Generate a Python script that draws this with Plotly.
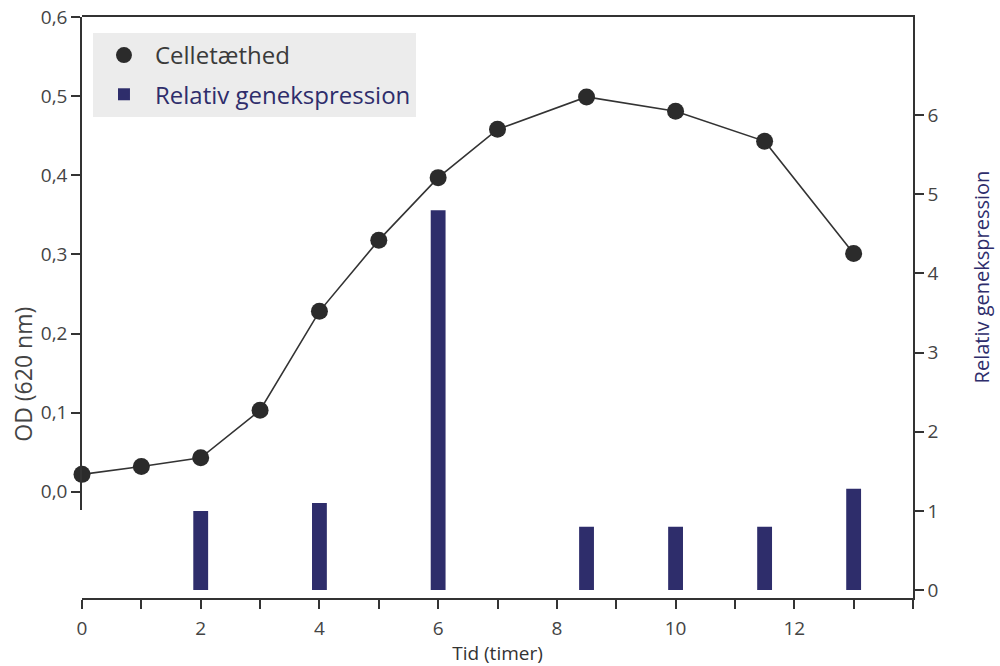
import plotly.graph_objects as go

# Data
od_time = [0, 1, 2, 3, 4, 5, 6, 7, 8.5, 10, 11.5, 13]
od_values = [0.022, 0.032, 0.043, 0.103, 0.228, 0.318, 0.397, 0.458, 0.499, 0.481, 0.443, 0.301]
expr_time = [2, 4, 6, 8.5, 10, 11.5, 13]
expr_values = [1.0, 1.1, 4.8, 0.8, 0.8, 0.8, 1.28]
x_tickvals = list(range(0, 15))
x_ticktext = ["0", "", "2", "", "4", "", "6", "", "8", "", "10", "", "12", "", ""]
od_tickvals = [0, 0.1, 0.2, 0.3, 0.4, 0.5, 0.6]
expr_tickvals = [0, 1, 2, 3, 4, 5, 6]

FONT = "Open Sans"
GREY = "#444444"
NAVY = "#2e2d6b"
DOT = "#2b2b2b"
AX = "#333333"

fig = go.Figure()

fig.add_trace(go.Bar(
    x=expr_time, y=expr_values, yaxis="y2", legendgroup="b", legendrank=2,
    name=f'<span style="color:{NAVY}">Relativ genekspression</span>',
    marker=dict(color=NAVY, line=dict(width=0)), width=0.25,
))
fig.add_trace(go.Scatter(
    x=od_time, y=od_values, name="Celletæthed", showlegend=False,
    mode="lines+markers", yaxis="y",
    line=dict(color=AX, width=1.6),
    marker=dict(size=17, color=DOT),
    cliponaxis=False,
))
# legend-only entry (marker without line, as in the reference legend)
fig.add_trace(go.Scatter(
    x=[None], y=[None], name="Celletæthed", mode="markers", yaxis="y",
    legendgroup="a", legendrank=1,
    marker=dict(size=17, color=DOT),
))

fig.update_layout(
    width=1000, height=666,
    margin=dict(l=82, r=87, t=17, b=68),
    paper_bgcolor="white", plot_bgcolor="rgba(0,0,0,0)",
    separators=",.",
    font=dict(family=FONT, color=GREY, size=16),
    barmode="overlay",
    showlegend=True,
    legend=dict(
        x=0.0132, y=0.9725, xanchor="left", yanchor="top",
        bgcolor="#ececec", font=dict(size=24, color="#3a3a3a"),
        tracegroupgap=5, itemwidth=52, traceorder="grouped",
    ),
    xaxis=dict(
        range=[0, 14], tickvals=x_tickvals, ticktext=x_ticktext, anchor="y2",
        showline=True, linecolor=AX, linewidth=1.5, mirror=True,
        ticks="outside", ticklen=9, tickcolor=AX, tickwidth=1.5,
        showgrid=False, zeroline=False, automargin=False,
        ticklabelstandoff=3,
        tickfont=dict(size=19, color=GREY),
        title=dict(text="Tid (timer)", font=dict(size=19, color=AX), standoff=8),
    ),
    yaxis=dict(
        domain=[0.1515, 1], range=[-0.023, 0.6], anchor="x", side="left",
        tickvals=od_tickvals, tickformat=".1f", automargin=False,
        showline=True, linecolor=AX, linewidth=1.5,
        ticks="outside", ticklen=9, tickcolor=AX, tickwidth=1.5,
        showgrid=False, zeroline=False,
        tickfont=dict(size=19, color=GREY),
    ),
    yaxis2=dict(
        domain=[0, 1], range=[-0.10, 7.24], anchor="x", side="right",
        tickvals=expr_tickvals, automargin=False,
        showline=True, linecolor=AX, linewidth=1.5,
        ticks="outside", ticklen=9, tickcolor=AX, tickwidth=1.5,
        showgrid=False, zeroline=False,
        tickfont=dict(size=19, color=GREY),
    ),
    annotations=[
        dict(text="OD (620 nm)", xref="paper", yref="paper", x=-0.071, y=0.386,
             textangle=-90, showarrow=False, font=dict(size=23, color=GREY),
             xanchor="center", yanchor="middle"),
        dict(text="Relativ genekspression", xref="paper", yref="paper", x=1.082, y=0.552,
             textangle=-90, showarrow=False, font=dict(size=20, color=NAVY),
             xanchor="center", yanchor="middle"),
    ],
)

fig.write_html(
    "out.html",
    config={"displayModeBar": False},
    post_script="document.body.style.margin='0';document.body.style.padding='0';",
)
